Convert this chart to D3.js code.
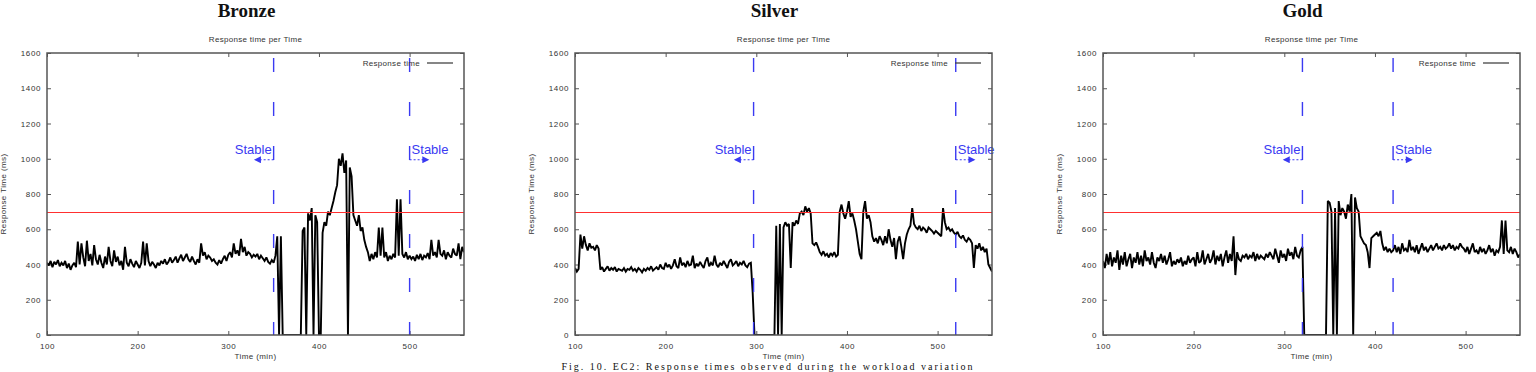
<!DOCTYPE html>
<html><head><meta charset="utf-8">
<script src="https://cdn.jsdelivr.net/npm/d3@7"></script>
<style>
html,body{margin:0;padding:0;background:#fff;}
svg{display:block;}
</style></head>
<body>
<svg id="chart" width="1536" height="372"></svg>
<script>
// ---------- data ----------
const panelTitles = ["Bronze", "Silver", "Gold"];
const plotTitle = "Response time per Time";
const xLabel = "Time (min)";
const yLabel = "Response Time (ms)";
const legendLabel = "Response time";
const stableLabel = "Stable";
const captionText = "Fig. 10. EC2: Response times observed during the workload variation";
const xTicks = [100, 200, 300, 400, 500];
const yTicks = [0, 200, 400, 600, 800, 1000, 1200, 1400, 1600];
const xDomain = [100, 560];
const yDomain = [0, 1600];
const slaThreshold = 700;
const startMinute = 100, stepMinutes = 2;
const stableBoundsBronze = [350, 500];
const stableBoundsSilver = [297, 520];
const stableBoundsGold = [320, 420];

const bronze = [
410,395,420,385,415,400,425,390,410,395,
420,380,405,370,395,410,385,530,400,520,
440,390,535,420,460,395,510,430,400,455,
410,380,445,400,500,420,390,480,415,445,
395,420,370,500,410,390,430,405,385,420,
400,380,410,530,395,520,420,390,415,400,
380,410,395,420,405,430,400,415,440,410,
425,445,410,435,455,420,440,460,430,415,
445,420,400,430,410,520,450,470,430,450,
440,420,430,410,400,425,405,430,450,420,
455,470,440,520,460,480,450,545,470,500,
450,470,460,440,455,445,460,430,450,435,
420,440,415,405,425,410,450,560,0,560,
0,0,0,0,0,0,0,0,0,0,
0,590,610,0,690,650,720,0,680,640,
0,0,580,640,620,700,680,720,760,810,
850,1000,960,1030,920,990,0,950,900,680,
650,620,680,590,610,540,500,470,420,460,
430,470,440,610,450,610,440,470,420,450,
430,460,440,770,450,770,460,440,470,430,
450,430,445,420,455,430,460,425,450,440,
465,430,540,450,470,440,540,460,450,480,
430,470,450,440,490,460,450,520,430,500,
470];

const silver = [
380,360,375,570,490,560,510,480,520,495,
500,480,510,490,370,385,360,375,390,365,
380,370,385,360,375,370,365,380,360,375,
370,385,365,375,360,380,370,355,375,365,
380,370,390,365,375,385,370,400,380,375,
410,385,400,375,395,430,390,380,440,395,
410,385,420,395,400,450,380,405,390,415,
395,380,420,440,390,410,395,450,400,385,
410,395,420,400,380,415,430,395,405,420,
390,410,400,420,395,385,405,410,240,0,
0,0,0,0,0,0,0,0,0,0,
0,620,0,630,0,610,640,620,630,380,
640,620,650,630,690,700,680,730,700,720,
690,520,510,525,500,470,455,475,450,460,
440,465,450,470,445,455,700,740,690,660,
700,760,670,690,650,600,530,460,430,700,
760,660,680,640,560,530,550,520,560,540,
510,560,520,600,540,500,550,430,530,560,
500,430,520,570,600,620,720,630,610,600,
620,590,610,600,580,610,600,590,575,590,
580,570,560,720,640,600,610,590,600,580,
570,585,560,550,565,540,530,550,540,520,
380,510,490,520,480,500,470,490,400,380,
360];

const gold = [
420,380,460,400,470,390,440,410,480,370,
450,400,470,390,430,460,380,440,410,470,
400,450,390,480,420,440,400,470,410,380,
440,420,460,410,450,400,430,470,390,420,
400,430,410,440,390,420,400,450,410,430,
440,390,470,410,420,480,400,430,460,410,
430,480,400,450,420,460,390,440,480,410,
460,420,560,340,470,430,420,450,440,460,
430,450,440,470,420,460,430,450,440,430,
460,440,470,450,430,490,450,410,480,440,
460,420,490,450,470,430,500,450,440,480,
500,0,0,0,0,0,0,0,0,0,
0,0,0,0,760,750,700,0,720,0,
760,680,720,700,660,740,700,800,0,780,
720,700,560,540,520,510,470,380,550,560,
570,580,560,590,520,480,500,470,490,470,
480,510,470,500,460,520,480,490,470,540,
480,500,470,510,460,490,520,480,500,470,
490,510,480,500,520,490,500,480,510,490,
500,520,490,510,480,500,490,520,500,490,
470,500,460,490,520,470,480,460,500,470,
490,460,480,510,470,490,450,480,470,500,
650,460,650,480,470,500,460,490,470,440,
460];

const seriesList = [bronze, silver, gold];
const stableList = [stableBoundsBronze, stableBoundsSilver, stableBoundsGold];

// ---------- layout ----------
const svg = d3.select("#chart");
svg.append("rect").attr("width",1536).attr("height",372).attr("fill","#fff");

const plotLefts = [47, 575, 1103];
const plotW = 417, plotTop = 53, plotBottom = 335;
const blue = "#3a3af2";
const smallFont = "'Liberation Sans', Arial, sans-serif";

const defs = svg.append("defs");
defs.append("marker").attr("id","arrowHead").attr("viewBox","0 0 10 10")
  .attr("refX",9).attr("refY",5).attr("markerWidth",9).attr("markerHeight",7)
  .attr("markerUnits","userSpaceOnUse").attr("orient","auto")
  .append("path").attr("d","M0,0L10,5L0,10z").attr("fill",blue);

seriesList.forEach((values, p) => {
  const left = plotLefts[p];
  const x = d3.scaleLinear().domain(xDomain).range([left, left + plotW]);
  const y = d3.scaleLinear().domain(yDomain).range([plotBottom, plotTop]);
  const g = svg.append("g");

  // panel title
  g.append("text").attr("x", left + plotW/2 - 9).attr("y", 17)
    .attr("text-anchor","middle").attr("font-family","'Liberation Serif', 'Times New Roman', serif")
    .attr("font-weight","bold").attr("font-size",19).attr("fill","#111").text(panelTitles[p]);

  // plot title
  g.append("text").attr("x", left + plotW/2).attr("y", 42)
    .attr("text-anchor","middle").attr("font-family",smallFont)
    .attr("font-size",8).attr("letter-spacing",0.3).attr("fill","#333").text(plotTitle);

  // clip
  const clipId = "clip" + p;
  defs.append("clipPath").attr("id", clipId).append("rect")
    .attr("x", left).attr("y", plotTop).attr("width", plotW).attr("height", plotBottom - plotTop);

  // axes (inward ticks)
  const axB = g.append("g").attr("transform",`translate(0,${plotBottom})`)
    .call(d3.axisBottom(x).tickValues(xTicks).tickSize(-4).tickPadding(8).tickFormat(d3.format("d")));
  const axT = g.append("g").attr("transform",`translate(0,${plotTop})`)
    .call(d3.axisTop(x).tickValues(xTicks).tickSize(-4).tickFormat(""));
  const axL = g.append("g").attr("transform",`translate(${left},0)`)
    .call(d3.axisLeft(y).tickValues(yTicks).tickSize(-4).tickPadding(6).tickFormat(d3.format("d")));
  const axR = g.append("g").attr("transform",`translate(${left+plotW},0)`)
    .call(d3.axisRight(y).tickValues(yTicks).tickSize(-4).tickFormat(""));
  [axB, axT, axL, axR].forEach(a => {
    a.select(".domain").remove();
    a.selectAll(".tick line").attr("stroke","#555").attr("stroke-width",1);
    a.selectAll(".tick text").attr("font-family",smallFont).attr("font-size",8)
      .attr("letter-spacing",0.6).attr("fill","#333");
  });

  // series line
  const line = d3.line().x((d,i) => x(startMinute + i*stepMinutes)).y(d => y(d));
  g.append("path").datum(values).attr("clip-path",`url(#${clipId})`)
    .attr("d", line).attr("fill","none").attr("stroke","#000").attr("stroke-width",1.9)
    .attr("stroke-linejoin","miter").attr("stroke-miterlimit",2);

  // SLA threshold
  const yT = Math.round(y(slaThreshold)) + 0.5;
  g.append("line").attr("x1", left).attr("x2", left+plotW)
    .attr("y1", yT).attr("y2", yT)
    .attr("stroke","#ff3030").attr("stroke-width",1);

  // stable boundaries
  const [s1, s2] = stableList[p];
  [s1, s2].forEach(s => {
    g.append("line").attr("x1", x(s)).attr("x2", x(s)).attr("y1", plotTop+5).attr("y2", plotBottom)
      .attr("stroke", blue).attr("stroke-width",1.4).attr("stroke-dasharray","14,30");
  });
  // labels + arrows
  const labY = y(1000) - 5, arrY = y(1000) + 1;
  g.append("text").attr("x", x(s1) - 2).attr("y", labY).attr("text-anchor","end")
    .attr("font-family",smallFont).attr("font-size",13).attr("fill",blue).text(stableLabel);
  g.append("line").attr("x1", x(s1)).attr("x2", x(s1) - 19).attr("y1", arrY).attr("y2", arrY)
    .attr("stroke", blue).attr("stroke-width",1).attr("stroke-dasharray","2,2").attr("marker-end","url(#arrowHead)");
  g.append("text").attr("x", x(s2) + 2).attr("y", labY).attr("text-anchor","start")
    .attr("font-family",smallFont).attr("font-size",13).attr("fill",blue).text(stableLabel);
  g.append("line").attr("x1", x(s2)).attr("x2", x(s2) + 19).attr("y1", arrY).attr("y2", arrY)
    .attr("stroke", blue).attr("stroke-width",1).attr("stroke-dasharray","2,2").attr("marker-end","url(#arrowHead)");

  // legend
  g.append("text").attr("x", left + plotW - 44).attr("y", plotTop + 13).attr("text-anchor","end")
    .attr("font-family",smallFont).attr("font-size",8).attr("letter-spacing",0.3).attr("fill","#333").text(legendLabel);
  g.append("line").attr("x1", left + plotW - 37).attr("x2", left + plotW - 11)
    .attr("y1", plotTop + 10).attr("y2", plotTop + 10).attr("stroke","#444").attr("stroke-width",1.3);

  // frame
  g.append("rect").attr("x", left).attr("y", plotTop).attr("width", plotW).attr("height", plotBottom - plotTop)
    .attr("fill","none").attr("stroke","#555").attr("stroke-width",1.5);

  // axis labels
  g.append("text").attr("x", left + plotW/2).attr("y", 358.5).attr("text-anchor","middle")
    .attr("font-family",smallFont).attr("font-size",8).attr("letter-spacing",0.4).attr("fill","#333").text(xLabel);
  g.append("text").attr("transform",`translate(${left-41},${(plotTop+plotBottom)/2}) rotate(-90)`)
    .attr("text-anchor","middle").attr("font-family",smallFont).attr("font-size",8)
    .attr("letter-spacing",0.4).attr("fill","#333").text(yLabel);
});

// caption (kept inside the picture)
svg.append("text").attr("x", 768).attr("y", 370).attr("text-anchor","middle")
  .attr("font-family","'Liberation Serif', 'Times New Roman', serif").attr("font-size",10)
  .attr("letter-spacing",2).attr("fill","#111").text(captionText);
</script>
</body></html>
